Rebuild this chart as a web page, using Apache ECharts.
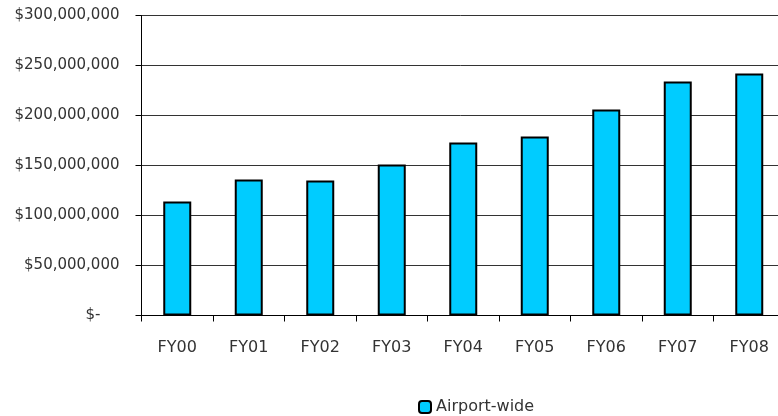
<!DOCTYPE html>
<html><head><meta charset="utf-8">
<script src="https://cdn.jsdelivr.net/npm/echarts@6/dist/echarts.min.js"></script>
<style>html,body{margin:0;padding:0;background:#fff}#c{width:778px;height:416px}</style>
</head><body><div id="c"></div>
<script>
const categories = ["FY00","FY01","FY02","FY03","FY04","FY05","FY06","FY07","FY08"];
const airportWide = [114000000,136000000,135000000,151000000,173000000,179000000,206000000,234000000,242000000];
const yTicks = { min: 0, max: 300000000, interval: 50000000 };
const seriesName = "Airport-wide";

const chart = echarts.init(document.getElementById('c'));
const font = '"DejaVu Sans", sans-serif';
chart.setOption({
  animation: false,
  backgroundColor: '#fff',
  grid: { left: 141.5, top: 15.5, right: -7, height: 300, outerBoundsMode: 'none', containLabel: false },
  xAxis: {
    type: 'category', data: categories,
    axisLine: { lineStyle: { color: '#000', width: 1 } },
    axisTick: { show: true, length: 6, lineStyle: { color: '#000' } },
    axisLabel: { color: '#333', fontFamily: font, fontSize: 16, margin: 24 }
  },
  yAxis: {
    type: 'value', min: yTicks.min, max: yTicks.max, interval: yTicks.interval,
    axisLine: { show: true, lineStyle: { color: '#000', width: 1 } },
    axisTick: { show: true, length: 6, lineStyle: { color: '#000' } },
    splitLine: { lineStyle: { color: '#333', width: 1 } },
    axisLabel: {
      color: '#333', fontFamily: font, fontSize: 15, margin: 22,
      formatter: v => v === 0 ? '$-    ' : '$' + v.toLocaleString('en-US')
    }
  },
  legend: {
    data: [seriesName], left: 418, top: 399, padding: 0, itemWidth: 12, itemHeight: 12,
    textStyle: { color: '#333', fontFamily: font, fontSize: 16 }
  },
  series: [{
    type: 'bar', name: seriesName, data: airportWide, barWidth: 28,
    itemStyle: { color: '#00CCFF', borderColor: '#000', borderWidth: 2 }
  }]
});
</script></body></html>
